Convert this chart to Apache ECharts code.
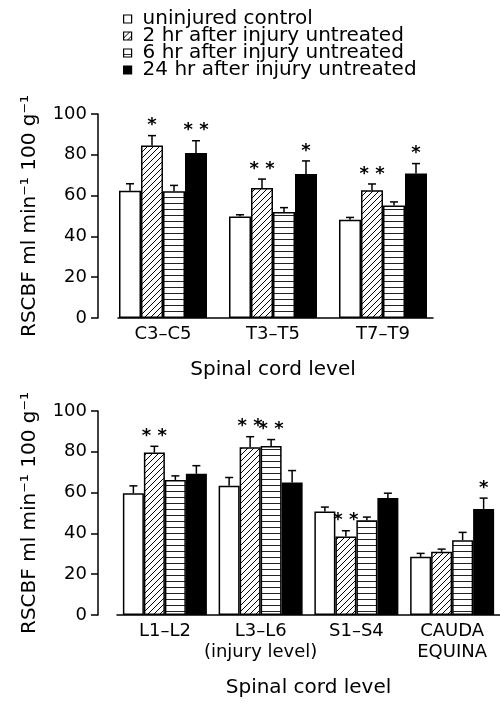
<!DOCTYPE html>
<html>
<head>
<meta charset="utf-8">
<script src="https://cdn.jsdelivr.net/npm/echarts@6/dist/echarts.min.js"></script>
<style>html,body{margin:0;padding:0;background:#fff;}#c{width:500px;height:710px;}</style>
</head>
<body>
<div id="c"></div>
<script>
// ---------- data ----------
const seriesNames = ['uninjured control', '2 hr after injury untreated', '6 hr after injury untreated', '24 hr after injury untreated'];

const topCategories = ['C3–C5', 'T3–T5', 'T7–T9'];
const topControl = [62.4, 49.8, 48.2];
const topControlErr = [3.4, 0.8, 1.1];
const top2hr = [84.6, 63.7, 62.6];
const top2hrErr = [4.8, 4.4, 3.1];
const top6hr = [62.1, 52.0, 55.1];
const top6hrErr = [2.9, 2.1, 1.8];
const top24hr = [80.9, 70.6, 70.8];
const top24hrErr = [6.0, 6.4, 4.9];
const topStarsControl = ['', '', ''];
const topStars2hr = ['*', '**', '**'];
const topStars6hr = ['', '', ''];
const topStars24hr = ['**', '*', '*'];

const bottomCategories = ['L1–L2', 'L3–L6\n(injury level)', 'S1–S4', 'CAUDA\nEQUINA'];
const botControl = [59.7, 63.3, 50.7, 28.5];
const botControlErr = [3.6, 4.1, 2.2, 1.7];
const bot2hr = [79.6, 82.2, 38.5, 31.0];
const bot2hrErr = [3.1, 5.2, 2.8, 1.3];
const bot6hr = [66.2, 82.9, 46.5, 36.7];
const bot6hrErr = [2.0, 3.1, 1.5, 3.8];
const bot24hr = [69.2, 64.9, 57.3, 52.0];
const bot24hrErr = [4.0, 5.9, 2.4, 5.3];
const botStarsControl = ['', '', '', ''];
const botStars2hr = ['**', '**', '**', ''];
const botStars6hr = ['', '**', '', ''];
const botStars24hr = ['', '', '', '*'];

const yTicks = { min: 0, max: 100, interval: 20 };
const xAxisTitle = 'Spinal cord level';
const yAxisTitle = 'RSCBF ml min⁻¹ 100 g⁻¹';

// ---------- styling ----------
const FONT = 'DejaVu Sans';
const BLACK = '#000';

function hatchCanvas() {
  const c = document.createElement('canvas');
  c.width = 6; c.height = 6;
  const g = c.getContext('2d');
  g.fillStyle = '#fff'; g.fillRect(0, 0, 6, 6);
  g.strokeStyle = '#000'; g.lineWidth = 1;
  g.beginPath();
  g.moveTo(0, 6); g.lineTo(6, 0);
  g.moveTo(-1, 1); g.lineTo(1, -1);
  g.moveTo(5, 7); g.lineTo(7, 5);
  g.stroke();
  return c;
}
function stripeCanvas() {
  const c = document.createElement('canvas');
  c.width = 4; c.height = 6;
  const g = c.getContext('2d');
  g.fillStyle = '#fff'; g.fillRect(0, 0, 4, 6);
  g.fillStyle = '#222'; g.fillRect(0, 5, 4, 1);
  return c;
}
const fills = [
  '#fff',
  { image: hatchCanvas(), repeat: 'repeat' },
  { image: stripeCanvas(), repeat: 'repeat' },
  '#000'
];

const topVals = [topControl, top2hr, top6hr, top24hr];
const topErrs = [topControlErr, top2hrErr, top6hrErr, top24hrErr];
const topStars = [topStarsControl, topStars2hr, topStars6hr, topStars24hr];
const botVals = [botControl, bot2hr, bot6hr, bot24hr];
const botErrs = [botControlErr, bot2hrErr, bot6hrErr, bot24hrErr];
const botStars = [botStarsControl, botStars2hr, botStars6hr, botStars24hr];

const TOP_BW = 22, BOT_BW = 21;

function barSeries(vals, gridIdx, bw) {
  return vals.map((v, i) => ({
    name: seriesNames[i],
    type: 'bar',
    xAxisIndex: gridIdx, yAxisIndex: gridIdx,
    data: v,
    barWidth: bw,
    barGap: '0%',
    itemStyle: { color: fills[i], borderColor: BLACK, borderWidth: 1.5 },
    emphasis: { disabled: true },
    z: 2
  }));
}

function errData(vals, errs, stars) {
  const out = [];
  vals.forEach((v, s) => v.forEach((val, c) => {
    out.push([c, s, val, val + errs[s][c], stars[s][c]]);
  }));
  return out;
}

function errSeries(vals, errs, stars, gridIdx, bw) {
  return {
    type: 'custom',
    xAxisIndex: gridIdx, yAxisIndex: gridIdx,
    data: errData(vals, errs, stars),
    encode: { x: 0, y: 3 },
    z: 5,
    silent: true,
    renderItem: function (params, api) {
      const c = api.value(0), s = api.value(1);
      const val = api.value(2), top = api.value(3);
      const star = api.value(4);
      const base = api.coord([c, val]);
      const tp = api.coord([c, top]);
      const x = base[0] + (s - 1.5) * bw;
      const children = [
        { type: 'line', shape: { x1: x, y1: base[1], x2: x, y2: tp[1] }, style: { stroke: BLACK, lineWidth: 1.5 } },
        { type: 'line', shape: { x1: x - 4, y1: tp[1], x2: x + 4, y2: tp[1] }, style: { stroke: BLACK, lineWidth: 1.5 } }
      ];
      if (star) {
        children.push({
          type: 'text',
          style: {
            text: star === '**' ? '* *' : '*',
            x: x, y: tp[1] - 1,
            align: 'center', verticalAlign: 'bottom',
            font: 'bold 18px "' + FONT + '"', fill: BLACK
          }
        });
      }
      return { type: 'group', children: children };
    }
  };
}

const axisTextStyle = { color: BLACK, fontFamily: FONT };

function yAxisDef(gridIdx, offset) {
  return {
    gridIndex: gridIdx, type: 'value',
    min: yTicks.min, max: yTicks.max, interval: yTicks.interval,
    offset: offset,
    axisLine: { show: true, lineStyle: { color: BLACK, width: 1.5 } },
    axisTick: { show: true, length: 7, lineStyle: { color: BLACK, width: 1.5 } },
    axisLabel: Object.assign({ fontSize: 18, margin: 11 }, axisTextStyle),
    splitLine: { show: false },
    name: yAxisTitle, nameLocation: 'middle', nameGap: 58,
    nameTextStyle: Object.assign({ fontSize: 20 }, axisTextStyle)
  };
}

function xAxisDef(gridIdx, cats, showLine, nameGap) {
  return {
    gridIndex: gridIdx, type: 'category', data: cats,
    axisLine: { show: showLine, onZero: false, lineStyle: { color: BLACK, width: 1.5 } },
    axisTick: { show: false },
    axisLabel: Object.assign({ fontSize: 18, margin: 6, lineHeight: 21, interval: 0 }, axisTextStyle),
    name: xAxisTitle, nameLocation: 'middle', nameGap: nameGap,
    nameTextStyle: Object.assign({ fontSize: 20 }, axisTextStyle)
  };
}

const chart = echarts.init(document.getElementById('c'), null, { renderer: 'canvas' });
chart.setOption({
  backgroundColor: '#fff',
  animation: false,
  legend: {
    data: seriesNames,
    orient: 'vertical',
    left: 118, top: 4,
    icon: 'rect',
    itemWidth: 8, itemHeight: 8,
    itemGap: -3,
    selectedMode: false,
    itemStyle: { borderColor: BLACK, borderWidth: 1.2 },
    textStyle: { fontSize: 20, lineHeight: 16, color: BLACK, fontFamily: FONT, padding: [0, 0, 0, 6] }
  },
  grid: [
    { left: 108, right: 62, top: 114, height: 204 },
    { left: 117, right: 0, top: 411, height: 204 },
    { left: 118, right: 67, top: 114, height: 204 }
  ],
  xAxis: [
    xAxisDef(0, topCategories, false, 42),
    xAxisDef(1, bottomCategories, true, 63),
    { gridIndex: 2, type: 'value', min: 0, max: 1,
      axisLine: { show: true, onZero: false, lineStyle: { color: BLACK, width: 1.5 } },
      axisTick: { show: false }, axisLabel: { show: false }, splitLine: { show: false } }
  ],
  yAxis: [
    yAxisDef(0, 10),
    yAxisDef(1, 19),
    { gridIndex: 2, type: 'value', min: 0, max: 1, show: false }
  ],
  series: [].concat(
    barSeries(topVals, 0, TOP_BW),
    barSeries(botVals, 1, BOT_BW),
    [errSeries(topVals, topErrs, topStars, 0, TOP_BW),
     errSeries(botVals, botErrs, botStars, 1, BOT_BW),
     { type: 'line', xAxisIndex: 2, yAxisIndex: 2, data: [], silent: true }]
  )
});
</script>
</body>
</html>
